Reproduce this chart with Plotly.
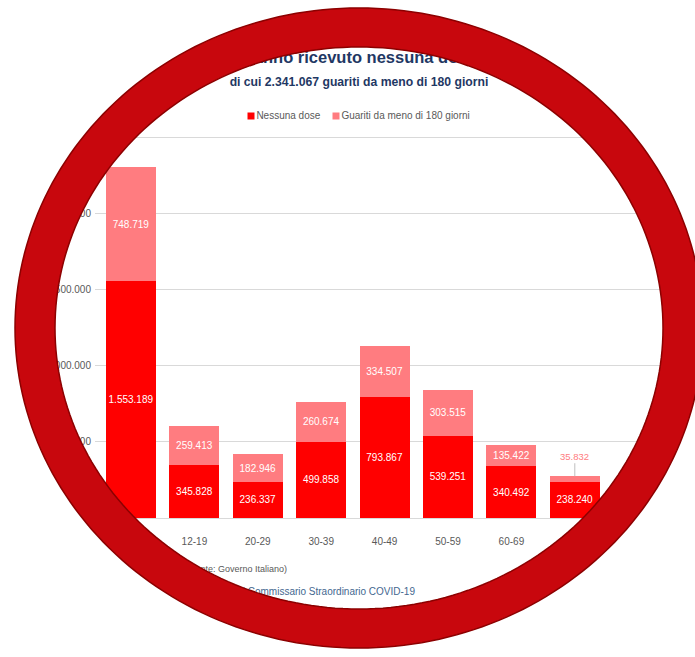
import numpy as np
import plotly.graph_objects as go

# ---------------- data ----------------
categories = ["5-11", "12-19", "20-29", "30-39", "40-49", "50-59", "60-69", "70-79"]
nessuna_dose = [1553189, 345828, 236337, 499858, 793867, 539251, 340492, 238240]
guariti = [748719, 259413, 182946, 260674, 334507, 303515, 135422, 35832]
y_ticks = [0, 500000, 1000000, 1500000, 2000000, 2500000]
series_names = ["Nessuna dose", "Guariti da meno di 180 giorni"]

title_line1_left = "Persone che non ha"
title_line1_right = "nno ricevuto nessuna dose"
title_line2 = "di cui 2.341.067 guariti da meno di 180 giorni"
footer1 = "(Fonte: Governo Italiano)"
footer2 = "Elaborazione su dati Commissario Straordinario COVID-19"

RED = "#ff0000"
PINK = "#ff7c80"
RING = "#c8070d"
RING_EDGE = "#8c0000"
GREY = "#595959"
TITLE_C = "#1f3864"

# ---------------- geometry (pixels) ----------------
W, H = 695, 657
PLOT_L, PLOT_R, PLOT_T, PLOT_B = 95, 695, 135, 518
PLOT_W = PLOT_R - PLOT_L
PLOT_H = PLOT_B - PLOT_T
Y_PER_PX = 500000 / 76.2
CAT_PX0, CAT_STEP = 131, 63.4


def it(v):
    return f"{v:,}".replace(",", ".")


def px_x(p):
    return p / W


def px_y(p):
    return (H - p) / H


def ellipse_path(cx, cy, a, b, n=240):
    t = np.linspace(0, 2 * np.pi, n, endpoint=False)
    xs = cx + a * np.cos(t)
    ys = cy + b * np.sin(t)
    pts = [f"{px_x(x):.5f},{px_y(y):.5f}" for x, y in zip(xs, ys)]
    return "M" + " L".join(pts) + " Z"


def rect_path(x0, y0, x1, y1):
    return (f"M{px_x(x0):.5f},{px_y(y0):.5f} L{px_x(x1):.5f},{px_y(y0):.5f} "
            f"L{px_x(x1):.5f},{px_y(y1):.5f} L{px_x(x0):.5f},{px_y(y1):.5f} Z")


CX, CY = 359, 328
INNER_A, INNER_B = 304, 281
OUTER_A, OUTER_B = 344, 320

fig = go.Figure()

fig.add_trace(go.Bar(
    x=categories, y=nessuna_dose, name=series_names[0],
    marker=dict(color=RED, line=dict(width=0)),
    texttemplate="%{y:,d}", textposition="inside", insidetextanchor="middle",
    textfont=dict(color="white", size=10, family="Liberation Sans"),
    constraintext="none", textangle=0, hoverinfo="skip", showlegend=False,
))
fig.add_trace(go.Bar(
    x=categories, y=guariti, name=series_names[1],
    marker=dict(color=PINK, line=dict(width=0)),
    texttemplate=["%{y:,d}"] * (len(categories) - 1) + [""],
    textposition="inside", insidetextanchor="middle",
    textfont=dict(color="white", size=10, family="Liberation Sans"),
    constraintext="none", textangle=0, hoverinfo="skip", showlegend=False,
))


# text drawn on a full-figure pixel axis (beneath the ring)
def text_trace(x, y, text, pos, size, color, bold=False):
    t = f"<b>{text}</b>" if bold else text
    return go.Scatter(
        x=[x], y=[y], text=[t], mode="text", textposition=pos,
        textfont=dict(size=size, color=color, family="Liberation Sans"),
        xaxis="x2", yaxis="y2", showlegend=False, hoverinfo="skip", cliponaxis=False,
    )


fig.add_trace(text_trace(263, 59, title_line1_left, "middle left", 16.5, TITLE_C, True))
fig.add_trace(text_trace(263, 59, title_line1_right, "middle right", 16.5, TITLE_C, True))
fig.add_trace(text_trace(359, 83, title_line2, "middle center", 12.2, TITLE_C, True))
fig.add_trace(text_trace(287, 570, footer1, "middle left", 9, GREY))
fig.add_trace(text_trace(415, 592, footer2, "middle left", 10, "#44678f"))

# legend (drawn manually for compact spacing)
for (lx, color, name) in [(251, RED, series_names[0]), (336, PINK, series_names[1])]:
    fig.add_trace(go.Scatter(
        x=[lx], y=[116], mode="markers+text", text=[name], textposition="middle right",
        marker=dict(symbol="square", size=7, color=color),
        textfont=dict(size=10, color=GREY, family="Liberation Sans"),
        xaxis="x2", yaxis="y2", showlegend=False, hoverinfo="skip", cliponaxis=False,
    ))

last = len(categories) - 1
fig.add_annotation(
    x=categories[last], y=nessuna_dose[last] + guariti[last],
    text=it(guariti[last]), showarrow=True, arrowhead=0, arrowwidth=1,
    arrowcolor="#bfbfbf", ax=0, ay=-20,
    font=dict(size=9.5, color=PINK, family="Liberation Sans"),
)

shapes = [
    dict(type="path", xref="paper", yref="paper", layer="above",
         path=rect_path(-20, -20, W + 20, H + 20) + " " + ellipse_path(CX, CY, OUTER_A - 1, OUTER_B - 1),
         fillcolor="white", line=dict(width=0), fillrule="evenodd"),
    dict(type="path", xref="paper", yref="paper", layer="above",
         path=ellipse_path(CX, CY, OUTER_A, OUTER_B) + " " + ellipse_path(CX, CY, INNER_A, INNER_B),
         fillcolor=RING, line=dict(width=1.5, color=RING_EDGE), fillrule="evenodd"),
]

x0 = (PLOT_L - CAT_PX0) / CAT_STEP
x1 = x0 + PLOT_W / CAT_STEP

fig.update_layout(
    width=W, height=H,
    margin=dict(l=0, r=0, t=0, b=0, pad=0),
    paper_bgcolor="white", plot_bgcolor="rgba(0,0,0,0)",
    barmode="stack", bargap=0.21,
    separators=",.",
    font=dict(family="Liberation Sans", color=GREY, size=10),
    showlegend=False,
    xaxis=dict(type="category", domain=[PLOT_L / W, PLOT_R / W], anchor="y",
               range=[x0, x1], showgrid=False, showline=True, automargin=False,
               linecolor="#d9d9d9", linewidth=1, ticks="", ticklabelstandoff=14,
               tickfont=dict(size=10, color=GREY), fixedrange=True),
    yaxis=dict(domain=[(H - PLOT_B) / H, (H - PLOT_T) / H], anchor="x",
               range=[0, PLOT_H * Y_PER_PX], tickvals=y_ticks, tickformat=",d",
               showgrid=True, gridcolor="#d9d9d9", gridwidth=1, zeroline=False, automargin=False,
               showline=False, ticks="", ticklabelstandoff=3,
               tickfont=dict(size=10, color=GREY), fixedrange=True),
    xaxis2=dict(domain=[0, 1], anchor="y2", range=[0, W], visible=False, fixedrange=True),
    yaxis2=dict(domain=[0, 1], anchor="x2", range=[H, 0], visible=False, fixedrange=True),
    shapes=shapes,
)

fig.write_html("out.html")
